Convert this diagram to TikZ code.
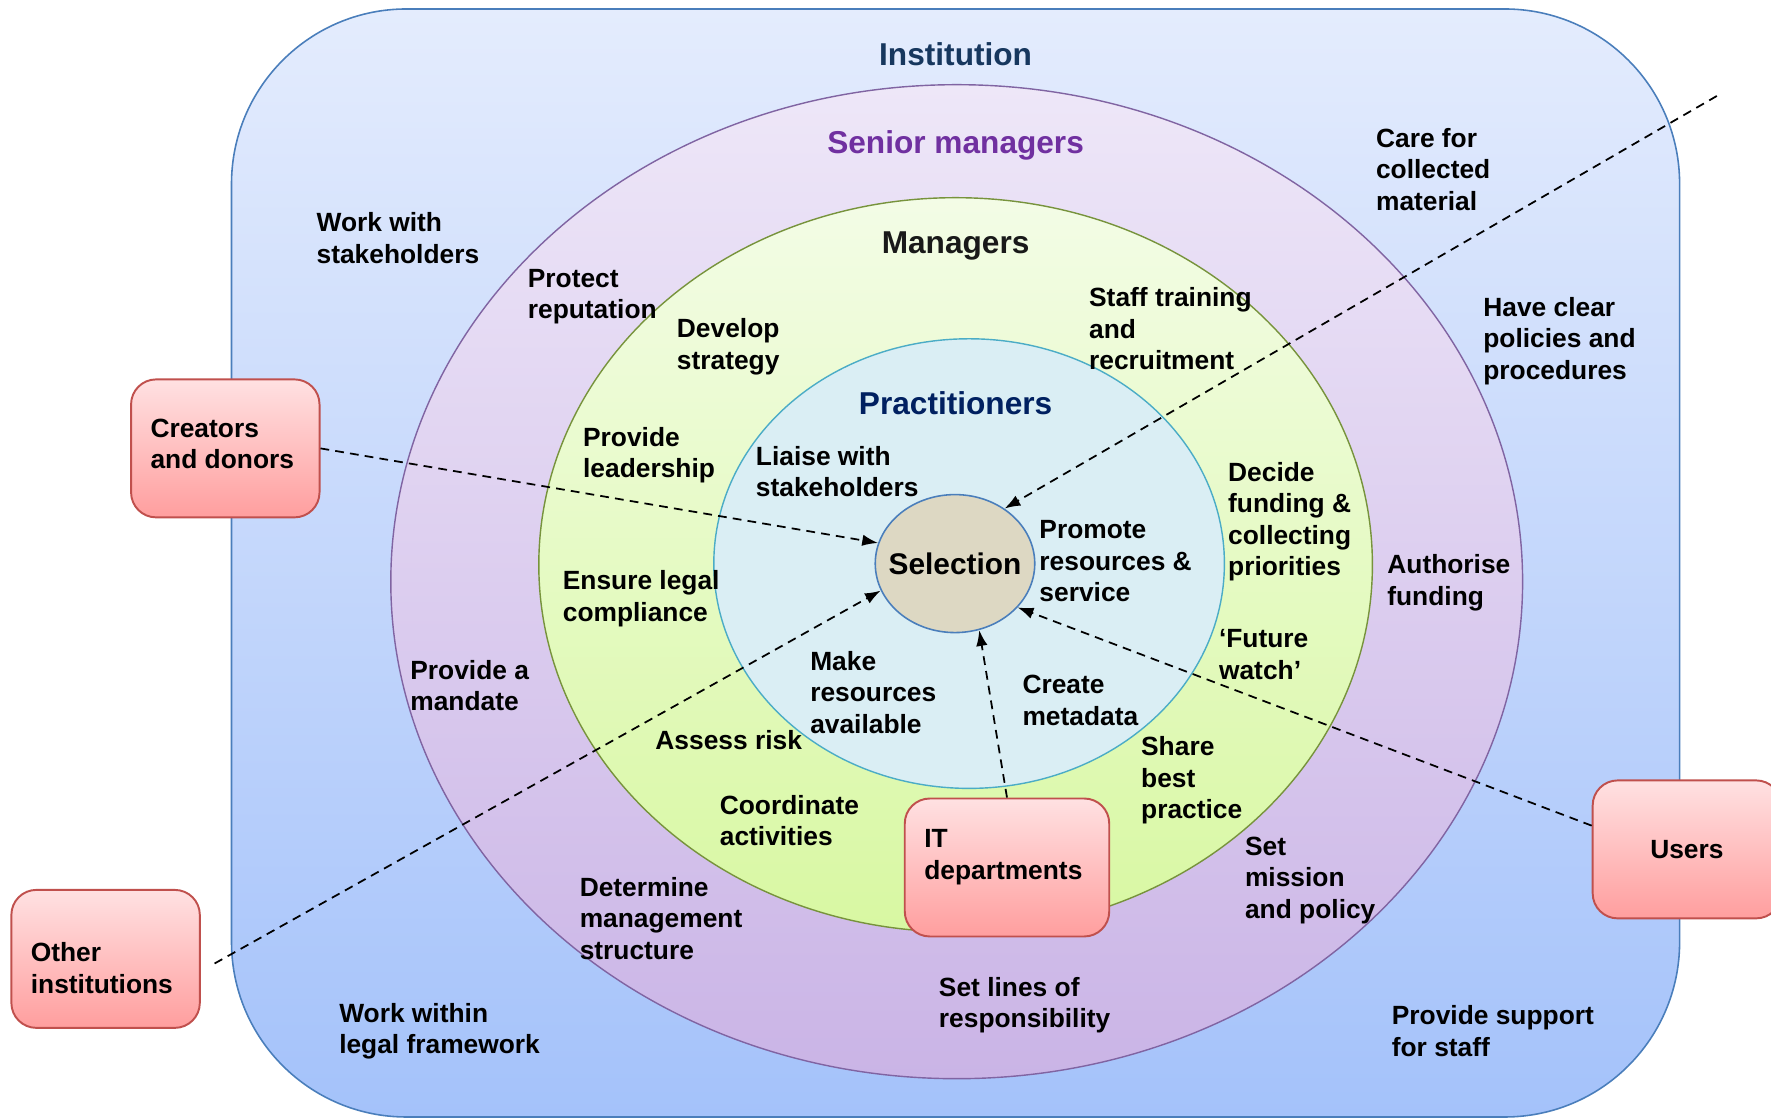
\documentclass[tikz,border=0pt]{standalone}
\usepackage{fontspec}
\setmainfont{Liberation Sans}
\usetikzlibrary{shapes.geometric, arrows.meta}

\definecolor{instline}{HTML}{4A7EBB}
\definecolor{insttop}{HTML}{E4ECFD}
\definecolor{instbot}{HTML}{A4C2FA}
\definecolor{srline}{HTML}{8064A2}
\definecolor{srtop}{HTML}{EEE7F8}
\definecolor{srbot}{HTML}{CAB4E6}
\definecolor{mgline}{HTML}{77933C}
\definecolor{mgtop}{HTML}{F3FCE6}
\definecolor{mgbot}{HTML}{D8F8A2}
\definecolor{prline}{HTML}{4BACC6}
\definecolor{prfill}{HTML}{DAEEF4}
\definecolor{selfill}{HTML}{DDD8C3}
\definecolor{boxline}{HTML}{C0504D}
\definecolor{boxtop}{HTML}{FFE1E2}
\definecolor{boxbot}{HTML}{FF9E9E}
\definecolor{insttext}{HTML}{17375E}
\definecolor{srtext}{HTML}{7030A0}
\definecolor{prtext}{HTML}{002060}

\begin{document}
\begin{tikzpicture}[x=0.02cm, y=0.02cm]
    \tikzstyle{role}=[font=\fontsize{18}{21}\selectfont\bfseries, inner sep=0]
    \tikzstyle{task}=[align=left, anchor=west, inner sep=0, font=\fontsize{15}{17.9}\selectfont\bfseries]
    \tikzstyle{actor}=[rectangle, rounded corners=0.5cm, draw=boxline, line width=1.1pt, top color=boxtop, bottom color=boxbot, minimum width=3.77cm, minimum height=2.76cm, font=\fontsize{15}{17.9}\selectfont\bfseries]
    \tikzstyle{flow}=[draw, line width=1pt, dash pattern=on 5pt off 3.5pt, -{Latex[length=9pt, width=6.5pt]}]

    \useasboundingbox (0,0) rectangle (1771,1118);

    \path[draw=instline, line width=0.9pt, top color=insttop, bottom color=instbot, rounded corners=3.5cm] (231.5,1) rectangle (1679.6,1109);
    \path[draw=srline, line width=0.8pt, top color=srtop, bottom color=srbot] (956.7,536.3) ellipse [x radius=565.9, y radius=497];
    \path[draw=mgline, line width=0.8pt, top color=mgtop, bottom color=mgbot] (955.6,553.2) ellipse [x radius=416.8, y radius=367.1];
    \path[draw=prline, line width=0.8pt, fill=prfill] (969.1,554.4) ellipse [x radius=255.3, y radius=224.8];

    \node[ellipse, draw=instline, line width=0.9pt, fill=selfill, minimum width=3.1cm, minimum height=2.76cm, inner xsep=-0.2cm, inner ysep=0, font=\fontsize{17}{20}\selectfont\bfseries] (sel) at (955,554.4) {\raisebox{-2pt}{Selection}};

    \node[role, text=insttext] (inst) at (955.6,1063.8) {Institution};
    \node[role, text=srtext] (senior) at (955.6,972.3) {Senior managers};
    \node[role, text=black!90] (mgr) at (955.6,871.8) {Managers};
    \node[role, text=prtext] (prac) at (955.6,714.8) {Practitioners};

    \node[task] (stake) at (316.3,879.7) {Work with\\stakeholders};
    \node[task] (protect) at (527.5,821.5) {Protect\\reputation};
    \node[task] (develop) at (676.6,771.2) {Develop\\strategy};
    \node[task] (staff) at (1088.8,789.3) {Staff training\\and\\recruitment};
    \node[task] (care) at (1375.7,948.6) {Care for\\collected\\material};
    \node[task] (policies) at (1483.0,776.9) {Have clear\\policies and\\procedures};
    \node[task] (lead) at (582.8,662.8) {Provide\\leadership};
    \node[task] (liaise) at (755.6,646.4) {Liaise with\\stakeholders};
    \node[task] (decide) at (1227.8,596.2) {Decide\\funding \&\\collecting\\priorities};
    \node[task] (promote) at (1039.1,556.6) {Promote\\resources \&\\service};
    \node[task] (authorise) at (1387.0,535.2) {Authorise\\funding};
    \node[task] (legal) at (562.5,519.4) {Ensure legal\\compliance};
    \node[task] (mandate) at (410.0,432.4) {Provide a\\mandate};
    \node[task] (make) at (809.9,425.6) {Make\\resources\\available};
    \node[task] (meta) at (1022.2,417.7) {Create\\metadata};
    \node[task] (future) at (1218.7,463.5) {‘Future\\watch’};
    \node[task] (risk) at (655.1,378.2) {Assess risk};
    \node[task] (share) at (1140.8,337.5) {Share\\best\\practice};
    \node[task] (coord) at (719.5,297.4) {Coordinate\\activities};
    \node[task] (struct) at (579.4,199.7) {Determine\\management\\structure};
    \node[task] (mission) at (1244.7,237.6) {Set\\mission\\and policy};
    \node[task] (lines) at (938.6,112.7) {Set lines of\\responsibility};
    \node[task] (framework) at (338.9,86.8) {Work within\\legal framework};
    \node[task] (support) at (1391.5,86.8) {Provide support\\for staff};

    \node[actor] (cre) at (225.3,669.6) {};
    \node[actor, minimum width=4.09cm] (it) at (1007.0,250.5) {};
    \node[actor] (oth) at (105.6,159.1) {};
    \node[actor] (usr) at (1686.9,268.6) {Users};
    \node[task] (crelbl) at (150.2,674.1) {Creators\\and donors};
    \node[task] (itlbl) at (923.9,260.7) {IT\\departments};
    \node[task] (othlbl) at (30.5,150.0) {Other\\institutions};

    \coordinate (ne) at (1716.8,1022);
    \coordinate (sw) at (214.6,154.5);

    \draw[flow] (cre.east) -- (sel.165);
    \draw[flow] (ne) -- (sel.48);
    \draw[flow] (sw) -- (sel.200);
    \draw[flow] (it.north) -- (sel.290);
    \draw[flow] (usr.166) -- (sel.325);
\end{tikzpicture}
\end{document}
